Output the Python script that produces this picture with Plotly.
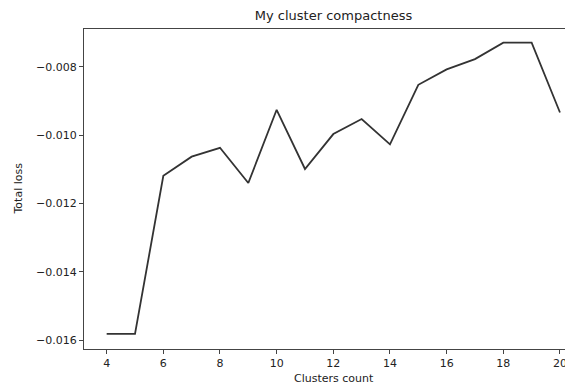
import plotly.graph_objects as go

clusters = [4, 5, 6, 7, 8, 9, 10, 11, 12, 13, 14, 15, 16, 17, 18, 19, 20]
total_loss = [-0.01581, -0.01581, -0.01119, -0.01063, -0.01037, -0.01140, -0.00926,
              -0.01099, -0.00997, -0.00953, -0.01027, -0.00853, -0.00808, -0.00778,
              -0.00730, -0.00730, -0.00934]

x_ticks = [4, 6, 8, 10, 12, 14, 16, 18, 20]
y_ticks = [-0.016, -0.014, -0.012, -0.010, -0.008]
y_tick_labels = ["\u22120.016", "\u22120.014", "\u22120.012", "\u22120.010", "\u22120.008"]

title_text = "My cluster compactness"
x_title = "Clusters count"
y_title = "Total loss"

font_family = "DejaVu Sans"
text_color = "#222222"

# page body has an 8px default margin; figure is sized to fit the window
OFF = 8
W, H = 573 - OFF, 387 - OFF
L, R, T, B = 84 - OFF, 0, 29 - OFF, 38
plot_w = W - L - R
plot_h = H - T - B

fig = go.Figure()
fig.add_trace(go.Scatter(
    x=clusters, y=total_loss, mode="lines",
    line=dict(color="#333333", width=1.8),
    showlegend=False,
))

fig.update_layout(
    template="none",
    width=W, height=H,
    margin=dict(l=L, r=R, t=T, b=B, autoexpand=False),
    paper_bgcolor="white", plot_bgcolor="white",
    font=dict(family=font_family, size=11, color=text_color),
    title=dict(text=title_text, x=(333.5 - OFF) / W, xanchor="center", xref="container",
               y=1 - (15 - OFF) / H, yanchor="middle", yref="container",
               font=dict(family=font_family, size=13, color=text_color)),
    annotations=[
        dict(text=x_title, xref="paper", yref="paper",
             x=(333.5 - OFF - L) / plot_w, y=-(378 - OFF - (T + plot_h)) / plot_h,
             xanchor="center", yanchor="middle", showarrow=False,
             font=dict(family=font_family, size=11, color=text_color)),
        dict(text=y_title, xref="paper", yref="paper",
             x=(17.5 - OFF - L) / plot_w, y=0.5, textangle=-90,
             xanchor="center", yanchor="middle", showarrow=False,
             font=dict(family=font_family, size=11, color=text_color)),
    ],
)

fig.update_xaxes(
    automargin=False,
    range=[3.2, 20.46], tickvals=x_ticks,
    showgrid=False, zeroline=False,
    showline=True, linecolor="#444444", linewidth=1.2, mirror=True,
    ticks="outside", ticklen=4, tickcolor="#444444", tickwidth=1,
    tickfont=dict(size=11, color=text_color),
)
fig.update_yaxes(
    automargin=False,
    range=[-0.016251, -0.006899], tickvals=y_ticks, ticktext=y_tick_labels,
    showgrid=False, zeroline=False,
    showline=True, linecolor="#444444", linewidth=1.2,
    ticks="outside", ticklen=4, tickcolor="#444444", tickwidth=1,
    tickfont=dict(size=11, color=text_color),
)

fig.write_html("out.html")
